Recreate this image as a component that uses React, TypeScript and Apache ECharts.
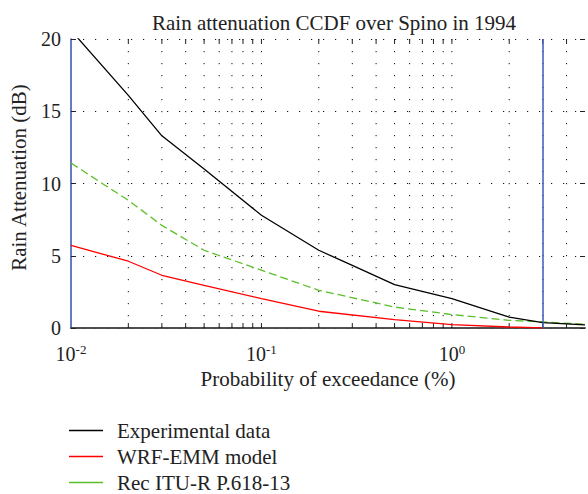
import React, { useEffect, useRef } from "react";
import * as echarts from "echarts";

const probExp = [0.01, 0.02, 0.03, 0.05, 0.1, 0.2, 0.3, 0.5, 1, 2, 3, 5];
const attExp = [20.6, 16.1, 13.3, 11.0, 7.8, 5.38, 4.33, 3.0, 2.03, 0.76, 0.37, 0.22];

const probWrf = [0.01, 0.02, 0.03, 0.05, 0.1, 0.2, 0.5, 1, 2, 3];
const attWrf = [5.72, 4.62, 3.65, 2.95, 2.03, 1.16, 0.58, 0.23, 0.07, 0.01];

const probItu = [0.01, 0.015, 0.02, 0.03, 0.05, 0.1, 0.2, 0.5, 1, 2, 3, 5];
const attItu = [11.42, 9.9, 8.84, 7.1, 5.38, 4.0, 2.61, 1.45, 0.93, 0.53, 0.42, 0.26];

const minorTicks = [
  0.02, 0.03, 0.04, 0.05, 0.06, 0.07, 0.08, 0.09, 0.1,
  0.2, 0.3, 0.4, 0.5, 0.6, 0.7, 0.8, 0.9, 1,
  2, 3, 4,
];
const blueLines = [3];
const yTicks = [0, 5, 10, 15, 20];

const seriesNames = ["Experimental data", "WRF-EMM model", "Rec ITU-R P.618-13"];

const FONT = "Liberation Serif";
const FS = 20;
const FS_BIG = 21;

export default function App() {
  const ref = useRef<HTMLDivElement>(null);
  useEffect(() => {
    if (!ref.current) return;
    const chart = echarts.init(ref.current, undefined, { renderer: "svg" });
    const zip = (xs: number[], ys: number[]) => xs.map((x, i) => [x, ys[i]]);
    const option: any = {
      animation: false,
      textStyle: { fontFamily: FONT },
      title: {
        text: "Rain attenuation CCDF over Spino in 1994",
        left: 329,
        textAlign: "center",
        top: 7,
        textStyle: { fontFamily: FONT, fontSize: FS_BIG, fontWeight: "normal", color: "#222" },
      },
      legend: {
        orient: "vertical",
        left: 69,
        top: 420,
        height: 80,
        padding: 0,
        icon: "rect",
        itemWidth: 34,
        itemHeight: 1.5,
        itemGap: 5,
        data: seriesNames,
        textStyle: { fontFamily: FONT, fontSize: FS_BIG, color: "#222", padding: [0, 0, 0, 9] },
      },
      grid: { left: 69, top: 39, width: 520, height: 289, containLabel: false },
      xAxis: [
        {
          type: "log",
          logBase: 10,
          min: 0.01,
          max: 5,
          name: "Probability of exceedance (%)",
          nameLocation: "middle",
          nameGap: 40,
          nameTextStyle: { fontFamily: FONT, fontSize: FS_BIG, color: "#222" },
          axisLine: { show: true, lineStyle: { color: "#444", width: 1.5 } },
          axisTick: { show: false },
          splitLine: { show: false },
          axisLabel: {
            margin: 15,
            fontFamily: FONT,
            fontSize: FS,
            color: "#222",
            formatter: (v: number) => {
              const e = Math.round(Math.log10(v));
              if (Math.abs(Math.pow(10, e) - v) > 1e-9 * v) return "";
              return "10{sup|" + e + "}";
            },
            rich: {
              sup: { fontFamily: FONT, fontSize: 13, verticalAlign: "top", padding: [0, 0, 8, 0], color: "#222" },
            },
          },
        },
        {
          type: "log",
          logBase: 10,
          min: 0.01,
          max: 5,
          position: "top",
          axisLine: { show: true, lineStyle: { color: "#444", width: 1.5 } },
          axisTick: { show: false },
          axisLabel: { show: false },
          splitLine: { show: false },
        },
      ],
      yAxis: [
        {
          type: "value",
          min: 0,
          max: 20,
          interval: 5,
          name: "Rain Attenuation (dB)",
          nameLocation: "middle",
          nameGap: 42,
          nameTextStyle: { fontFamily: FONT, fontSize: FS_BIG, color: "#222", padding: [0, 0, 0, 12] },
          axisLine: { show: true, lineStyle: { color: "#2f4fb5", width: 1.5 } },
          axisTick: { show: true, inside: true, length: 5, lineStyle: { color: "#222" } },
          axisLabel: {
            margin: 10,
            fontFamily: FONT,
            fontSize: FS,
            color: "#222",
            formatter: (v: number) => (yTicks.includes(v) ? String(v) : ""),
          },
          splitLine: { show: true, lineStyle: { color: "#111", width: 1, type: [1.2, 10.8] } },
        },
        {
          type: "value",
          min: 0,
          max: 20,
          interval: 5,
          position: "right",
          axisLine: { show: false },
          axisTick: { show: true, inside: true, length: 5, lineStyle: { color: "#222" } },
          axisLabel: { show: false },
          splitLine: { show: false },
        },
      ],
      series: [
        {
          type: "custom",
          silent: true,
          z: 1,
          data: minorTicks.map((v) => [v, 0]),
          encode: { x: 0, y: 1 },
          renderItem: (params: any, api: any) => {
            const x = api.coord([api.value(0), 0])[0];
            const cs = params.coordSys;
            const top = cs.y;
            const bottom = cs.y + cs.height;
            return {
              type: "group",
              children: [
                {
                  type: "line",
                  shape: { x1: x, y1: top, x2: x, y2: bottom },
                  style: { stroke: "#111", lineWidth: 1, lineDash: [1.2, 10.8] },
                },
                {
                  type: "line",
                  shape: { x1: x, y1: bottom, x2: x, y2: bottom - 5 },
                  style: { stroke: "#222", lineWidth: 1 },
                },
                {
                  type: "line",
                  shape: { x1: x, y1: top, x2: x, y2: top + 5 },
                  style: { stroke: "#222", lineWidth: 1 },
                },
              ],
            };
          },
        },
        {
          name: seriesNames[0],
          type: "line",
          data: zip(probExp, attExp),
          showSymbol: false,
          color: "#000",
          lineStyle: { color: "#000", width: 1.3 },
          z: 4,
          markLine: {
            silent: true,
            symbol: "none",
            label: { show: false },
            lineStyle: { color: "#3a5cb8", width: 1.5, type: "solid" },
            data: blueLines.map((v) => ({ xAxis: v })),
          },
        },
        {
          name: seriesNames[1],
          type: "line",
          data: zip(probWrf, attWrf),
          showSymbol: false,
          color: "#ff0000",
          lineStyle: { color: "#ff0000", width: 1.3 },
          z: 3,
        },
        {
          name: seriesNames[2],
          type: "line",
          data: zip(probItu, attItu),
          showSymbol: false,
          color: "#5cbf2a",
          lineStyle: { color: "#5cbf2a", width: 1.3, type: [8, 4] },
          z: 3,
        },
      ],
    };
    chart.setOption(option);
    return () => chart.dispose();
  }, []);
  return (
    <div
      ref={ref}
      style={{ position: "fixed", left: 0, top: 0, width: 588, height: 494, background: "#fff" }}
    />
  );
}
